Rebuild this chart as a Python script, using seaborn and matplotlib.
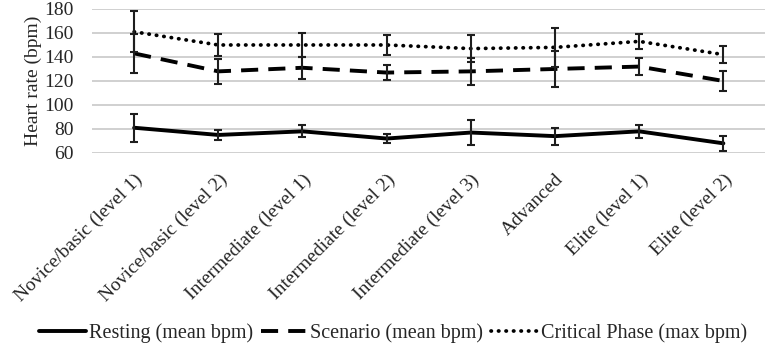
import pandas as pd
import numpy as np
import matplotlib
matplotlib.use("Agg")
import matplotlib.pyplot as plt
import seaborn as sns

# Skill levels along the x axis
levels = [
    "Novice/basic (level 1)", "Novice/basic (level 2)", "Intermediate (level 1)",
    "Intermediate (level 2)", "Intermediate (level 3)", "Advanced",
    "Elite (level 1)", "Elite (level 2)",
]

# Heart rate values (bpm) and error bar half-widths
resting = [81, 75, 78, 72, 77, 74, 78, 68]
resting_err = [11.5, 4.5, 5, 3.5, 10.5, 7, 5.5, 6]
scenario = [143, 128, 131, 127, 128, 130, 132, 120]
scenario_err = [16, 10.5, 9, 6.5, 11, 15, 7, 8]
critical = [161, 150, 150, 150, 147, 148, 153, 142]
critical_err = [17, 9, 10, 8, 11, 16, 6, 7]

series_names = ["Resting (mean bpm)", "Scenario (mean bpm)", "Critical Phase (max bpm)"]

sns.set_style("white")
plt.rcParams['font.family'] = ['Liberation Serif', 'DejaVu Serif']

df = pd.DataFrame({
    "level": levels * 3,
    "x": list(range(len(levels))) * 3,
    "bpm": resting + scenario + critical,
    "err": resting_err + scenario_err + critical_err,
    "series": sum([[n] * len(levels) for n in series_names], []),
})

fig = plt.figure(figsize=(7.67, 3.46), dpi=100)
ax = fig.add_axes([0.12, 0.558, 0.878, 0.416])

styles = {
    series_names[0]: dict(ls="-", lw=2.8, cap="butt"),
    series_names[1]: dict(ls=(0, (4.4, 2.6)), lw=2.8, cap="butt"),
    series_names[2]: dict(ls=(0, (0.1, 1.9)), lw=2.7, cap="round"),
}

for name in series_names:
    sub = df[df["series"] == name]
    st = styles[name]
    sns.lineplot(data=sub, x="x", y="bpm", ax=ax, color="black", label=name,
                 linestyle=st["ls"], linewidth=st["lw"], errorbar=None,
                 dash_capstyle=st["cap"])
    ax.errorbar(sub["x"], sub["bpm"], yerr=sub["err"], fmt="none",
                ecolor="#1e1e1e", elinewidth=1.5, capsize=3, capthick=1.5)

ax.set_xlim(-0.5, len(levels) - 0.5)
ax.set_ylim(60, 180)
ax.set_yticks(range(60, 181, 20))
ax.yaxis.grid(True, color="#c8c8c8", linewidth=1.2)
ax.set_axisbelow(True)
for s in ax.spines.values():
    s.set_visible(False)
ax.tick_params(axis="y", length=0, labelsize=14, pad=13)
ax.tick_params(axis="x", length=0, labelsize=14, pad=13)
ax.set_xticks(range(len(levels)))
ax.set_xticklabels(levels, rotation=45, ha="right", rotation_mode="anchor", fontsize=14)
ax.set_xlabel("")
ax.set_ylabel("Heart rate (bpm)", fontsize=14, labelpad=2)

ax.legend(loc="center", bbox_to_anchor=(0.447, -1.25), ncol=3, frameon=False,
          fontsize=14.5, handlelength=2.3, handletextpad=0.15, columnspacing=0.4)

fig.savefig("out.png", dpi=100)
